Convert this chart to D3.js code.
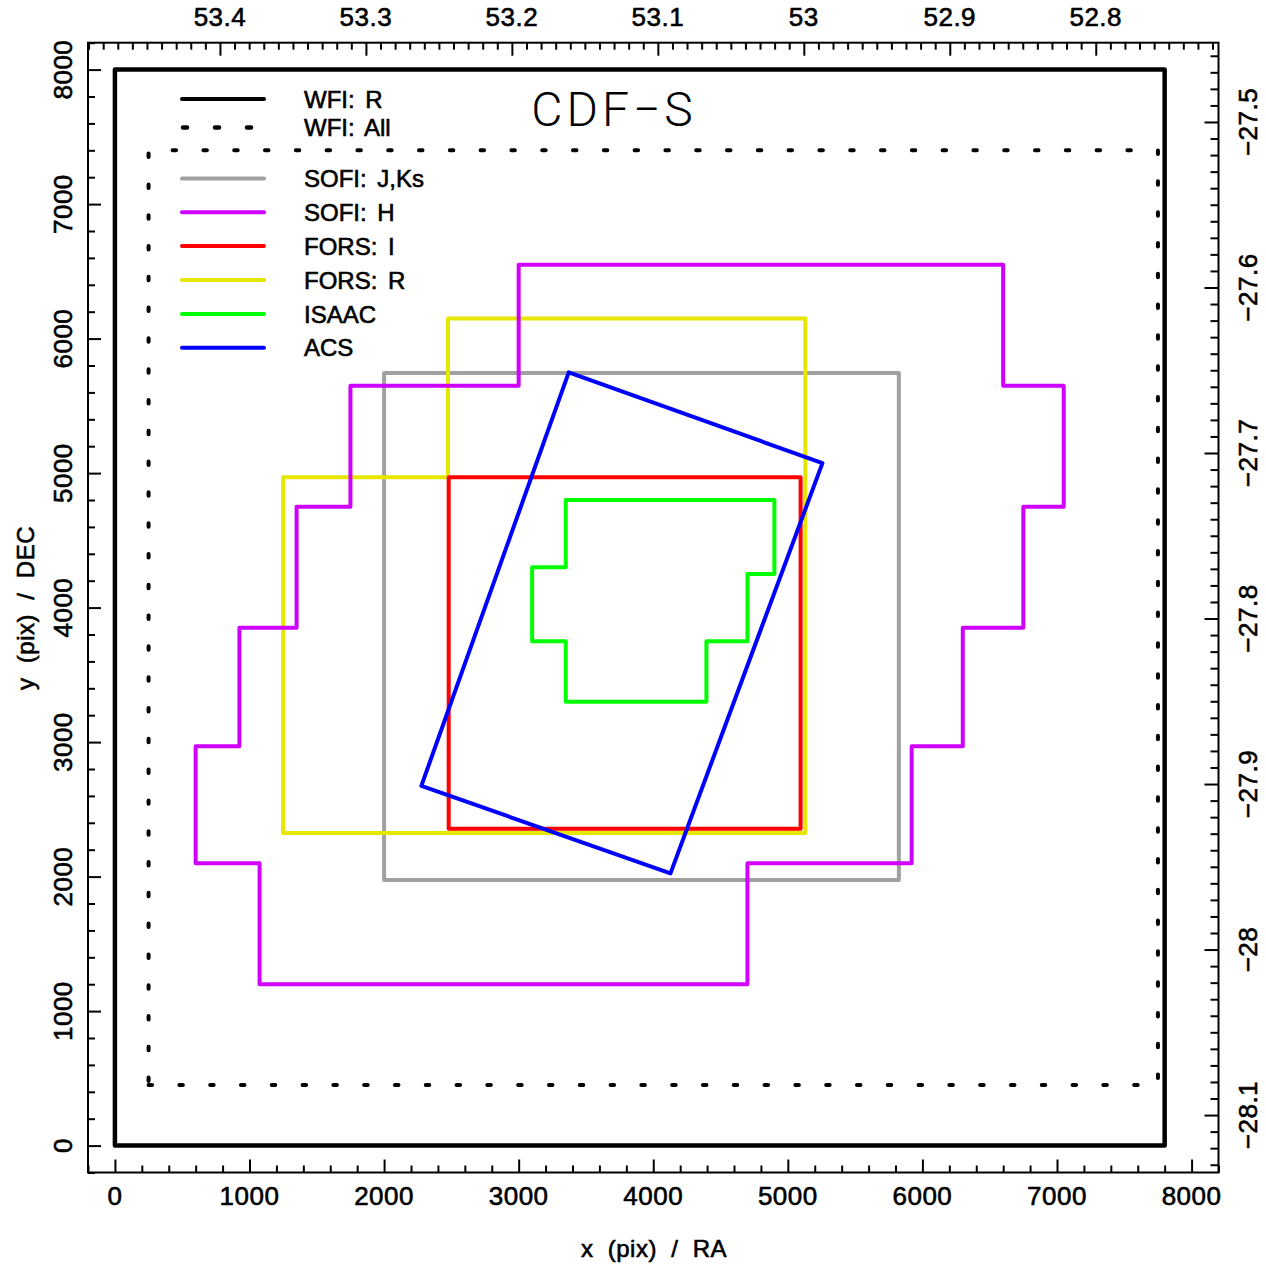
<!DOCTYPE html>
<html>
<head>
<meta charset="utf-8">
<script src="https://cdn.jsdelivr.net/npm/d3@7"></script>
<style>
  body { margin: 0; background: #fff; }
  text { font-family: "Liberation Sans", Arial, sans-serif; fill: #000; stroke: #000; stroke-width: 0.6px; }
  text.title { stroke: none; }
</style>
</head>
<body>
<svg id="chart" width="1266" height="1268"></svg>
<script>

// tick values
var xTicks = [0, 1000, 2000, 3000, 4000, 5000, 6000, 7000, 8000];
var yTicks = [0, 1000, 2000, 3000, 4000, 5000, 6000, 7000, 8000];
var raTicks = [53.4, 53.3, 53.2, 53.1, 53, 52.9, 52.8];
var decTicks = [-27.5, -27.6, -27.7, -27.8, -27.9, -28, -28.1];

// field outlines, in pixel coords of the WFI image
var wfiR   = [[0, 0], [7800, 0], [7800, 8000], [0, 8000]];
var wfiAll = [[250, 450], [7750, 450], [7750, 7400], [250, 7400]];
var sofiJK = [[2000, 1975], [5825, 1975], [5825, 5745], [2000, 5745]];
var forsR  = [[1250, 2325], [5130, 2325], [5130, 6150], [2475, 6150], [2475, 4970], [1250, 4970]];
var sofiH  = [[3000, 6550], [6600, 6550], [6600, 5650], [7050, 5650], [7050, 4750], [6750, 4750],
              [6750, 3850], [6300, 3850], [6300, 2970], [5920, 2970], [5920, 2100], [4700, 2100],
              [4700, 1200], [1075, 1200], [1075, 2100], [600, 2100], [600, 2970], [925, 2970],
              [925, 3850], [1350, 3850], [1350, 4750], [1750, 4750], [1750, 5650], [3000, 5650]];
var forsI  = [[2480, 2355], [5095, 2355], [5095, 4970], [2480, 4970]];
var isaac  = [[3350, 4800], [4900, 4800], [4900, 4250], [4700, 4250], [4700, 3750], [4395, 3750],
              [4395, 3300], [3350, 3300], [3350, 3750], [3100, 3750], [3100, 4300], [3350, 4300]];
var acs    = [[3372, 5749], [5257, 5074], [4128, 2024], [2277, 2675]];

var legendNames  = ["WFI: R", "WFI: All", "SOFI: J,Ks", "SOFI: H", "FORS: I", "FORS: R", "ISAAC", "ACS"];
var legendColors = ["#000", "#000", "#a0a0a0", "#d000ff", "#ff0000", "#e6e600", "#00ff00", "#0000ff"];

var fields = [
  {pts: wfiR,   color: "#000",    w: 4.5, dots: false},
  {pts: wfiAll, color: "#000",    w: 4,   dots: true},
  {pts: sofiJK, color: "#a0a0a0", w: 4},
  {pts: forsR,  color: "#e6e600", w: 4},
  {pts: sofiH,  color: "#d000ff", w: 4},
  {pts: forsI,  color: "#ff0000", w: 4},
  {pts: isaac,  color: "#00ff00", w: 4},
  {pts: acs,    color: "#0000ff", w: 4}
];

var box = {left: 88, right: 1218.5, top: 42.7, bottom: 1172.5};

var x = d3.scaleLinear().domain([-200, 8200]).range([box.left, box.right]);
var y = d3.scaleLinear().domain([-200, 8200]).range([box.bottom, box.top]);
var ra = d3.scaleLinear().domain([53.4904, 52.7159]).range([box.left, box.right]);
var dec = d3.scaleLinear().domain([-27.4521, -28.1347]).range([box.top, box.bottom]);

var svg = d3.select("#chart");
var fmt = d3.format("");

// outlines
var line = d3.line().x(d => x(d[0])).y(d => y(d[1])).curve(d3.curveLinearClosed);
svg.append("g").selectAll("path")
  .data(fields)
  .enter().append("path")
  .attr("d", d => line(d.pts))
  .attr("fill", "none")
  .attr("stroke", d => d.color)
  .attr("stroke-width", d => d.w)
  .attr("stroke-linejoin", "round")
  .attr("stroke-linecap", "round")
  .attr("stroke-dasharray", d => d.dots ? "3.5,27.3" : null);

// ticks
var xMinor = d3.range(-1, 42).map(i => i * 200).filter(v => v % 1000 != 0);
var raMinor = d3.range(5272, 5350).map(i => i / 100).filter(v => Math.round(v * 100) % 10 != 0);
var decMinor = d3.range(2746, 2814).map(i => -i / 100).filter(v => Math.round(v * 100) % 10 != 0);

function drawAxis(g, tx, ty, axis) {
  g.attr("transform", `translate(${tx},${ty})`)
    .call(axis.tickFormat(() => ""));
  g.select(".domain").remove();
  g.selectAll(".tick text").remove();
  g.selectAll(".tick line").attr("stroke-width", 2);
}

svg.append("g").call(g => drawAxis(g, 0, box.bottom, d3.axisBottom(x).tickValues(xTicks).tickSize(-13)));
svg.append("g").call(g => drawAxis(g, 0, box.bottom, d3.axisBottom(x).tickValues(xMinor).tickSize(-7)));
svg.append("g").call(g => drawAxis(g, box.left, 0, d3.axisLeft(y).tickValues(yTicks).tickSize(-13)));
svg.append("g").call(g => drawAxis(g, box.left, 0, d3.axisLeft(y).tickValues(xMinor).tickSize(-7)));
svg.append("g").call(g => drawAxis(g, 0, box.top, d3.axisTop(ra).tickValues(raTicks).tickSize(-13)));
svg.append("g").call(g => drawAxis(g, 0, box.top, d3.axisTop(ra).tickValues(raMinor).tickSize(-7)));
svg.append("g").call(g => drawAxis(g, box.right, 0, d3.axisRight(dec).tickValues(decTicks).tickSize(-14)));
svg.append("g").call(g => drawAxis(g, box.right, 0, d3.axisRight(dec).tickValues(decMinor).tickSize(-8)));

svg.append("rect")
  .attr("x", box.left).attr("y", box.top)
  .attr("width", box.right - box.left).attr("height", box.bottom - box.top)
  .attr("fill", "none").attr("stroke", "#000").attr("stroke-width", 2);

// tick labels
var lbl = svg.append("g").style("font-size", "26px").style("letter-spacing", "0.5px").attr("text-anchor", "middle");
lbl.selectAll(".xl").data(xTicks).enter().append("text")
  .attr("x", d => x(d)).attr("y", 1205).text(d => fmt(d));
lbl.selectAll(".yl").data(yTicks).enter().append("text")
  .attr("transform", d => `translate(72,${y(d)}) rotate(-90)`).text(d => fmt(d));
lbl.selectAll(".ral").data(raTicks).enter().append("text")
  .attr("x", d => ra(d)).attr("y", 26).text(d => fmt(d));
lbl.selectAll(".decl").data(decTicks).enter().append("text")
  .attr("transform", d => `translate(1257,${dec(d)}) rotate(-90)`).text(d => fmt(d));

// axis titles
svg.append("text").attr("x", 654).attr("y", 1257).attr("text-anchor", "middle")
  .style("font-size", "24px").style("white-space", "pre").style("letter-spacing", "0.5px")
  .text("x  (pix)  /  RA");
svg.append("text").attr("transform", "translate(34,608) rotate(-90)").attr("text-anchor", "middle")
  .style("font-size", "24px").style("white-space", "pre").style("letter-spacing", "0.5px")
  .text("y  (pix)  /  DEC");

// title
svg.append("text").attr("class", "title").attr("x", 614).attr("y", 126).attr("text-anchor", "middle")
  .style("font-family", "Roboto, 'Open Sans', sans-serif").style("font-weight", 300)
  .style("font-size", "48px").style("letter-spacing", "4px")
  .text("CDF\u2212S");

// legend
var legY = [99, 127.5, 178.5, 212.3, 246, 280, 314, 347.7];
var leg = svg.append("g").selectAll("g")
  .data(legendNames)
  .enter().append("g")
  .attr("transform", (d, i) => `translate(0,${legY[i]})`);
leg.append("line")
  .attr("x1", (d, i) => i == 1 ? 183 : 182).attr("x2", 264)
  .attr("stroke", (d, i) => legendColors[i])
  .attr("stroke-width", (d, i) => i == 1 ? 4.5 : 4)
  .attr("stroke-linecap", "round")
  .attr("stroke-dasharray", (d, i) => i == 1 ? "4,28" : null);
leg.append("text")
  .attr("x", 304).attr("y", 8.5)
  .style("font-size", "24px").style("word-spacing", "4px")
  .text(d => d);

</script>
</body>
</html>
